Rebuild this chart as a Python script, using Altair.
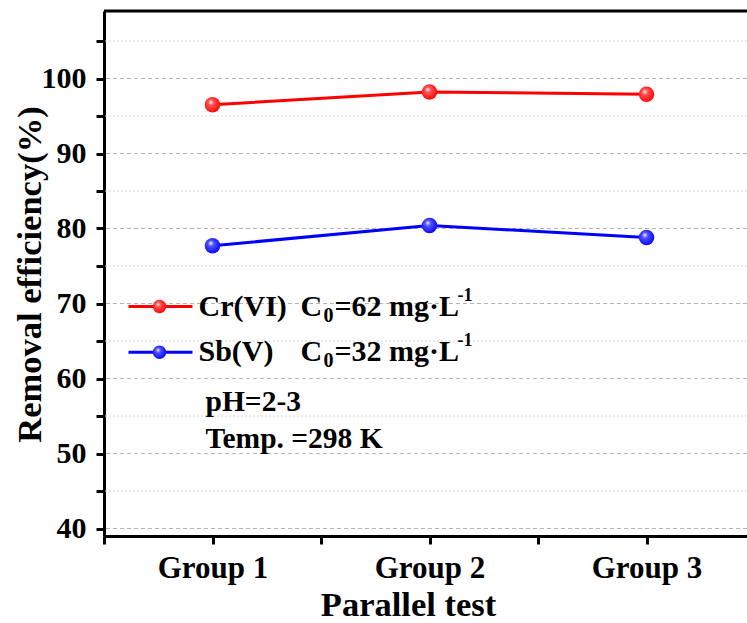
import altair as alt
import pandas as pd

# Removal efficiency (%) for three parallel test groups
groups = [1, 2, 3]
cr_vi = [96.5, 98.2, 97.9]
sb_v = [77.7, 80.4, 78.8]

FONT = "Liberation Serif"
X_DOM = [0.5, 3.463]
Y_DOM = [39, 109]

df = pd.DataFrame({
    "group": groups * 2,
    "eff": cr_vi + sb_v,
    "ion": ["Cr(VI)"] * 3 + ["Sb(V)"] * 3,
})

xs = alt.Scale(domain=X_DOM, nice=False, zero=False)
ys = alt.Scale(domain=Y_DOM, nice=False, zero=False)

x_axis = alt.Axis(
    values=[0.5, 1, 1.5, 2, 2.5, 3, 3.5],
    labelExpr="datum.value % 1 == 0 ? 'Group ' + datum.value : ''",
    title="Parallel test", grid=False,
    titleX=304, titleY=69, titleAlign="center", titleBaseline="middle",
)
y_axis = alt.Axis(
    values=list(range(40, 110, 5)),
    labelExpr="datum.value % 10 == 0 ? datum.label : ''",
    title="Removal efficiency(%)", grid=False,
    titleX=-74, titleY=263, titleAlign="center", titleBaseline="middle", titleAngle=270,
)


def ball(color, light):
    return alt.RadialGradient(
        gradient="radial",
        stops=[alt.GradientStop(color="#ffffff", offset=0),
               alt.GradientStop(color=light, offset=0.3),
               alt.GradientStop(color=color, offset=1)],
        x1=0.38, y1=0.32, r1=0.0, x2=0.45, y2=0.45, r2=0.62,
    )


base = alt.Chart(df)

# dashed major grid and dotted minor grid
grid_major = alt.Chart(pd.DataFrame({"v": list(range(40, 101, 10))})).mark_rule(
    color="#b4b4b4", strokeDash=[4, 3], strokeWidth=1.2
).encode(y=alt.Y("v:Q", scale=ys, axis=y_axis))
grid_minor = alt.Chart(pd.DataFrame({"v": list(range(45, 106, 10))})).mark_rule(
    color="#d6d6d6", strokeDash=[2, 2], strokeWidth=1
).encode(y=alt.Y("v:Q", scale=ys))

top_border = alt.Chart(pd.DataFrame({"v": [Y_DOM[1]]})).mark_rule(
    color="black", strokeWidth=3
).encode(y=alt.Y("v:Q", scale=ys))

layers = [grid_major, grid_minor, top_border]
for name, col, light in [("Cr(VI)", "#ff0000", "#ff5050"), ("Sb(V)", "#0000ff", "#5050ff")]:
    sub = base.transform_filter(alt.datum.ion == name)
    layers.append(sub.mark_line(color=col, strokeWidth=3).encode(
        x=alt.X("group:Q", scale=xs, axis=x_axis), y=alt.Y("eff:Q", scale=ys)))
    layers.append(sub.mark_point(filled=True, size=240, opacity=1, fill=ball(col, light)).encode(
        x=alt.X("group:Q", scale=xs), y=alt.Y("eff:Q", scale=ys)))


# legend: sample line + ball, then labels with sub/superscripts
def px(p):
    return (p - 212) / 217 + 1


legend_rows = [
    ("Cr(VI)", "=62 mg·L", 69.6, "#ff0000", "#ff5050"),
    ("Sb(V)", "=32 mg·L", 63.5, "#0000ff", "#5050ff"),
]
for lab, conc, yv, col, light in legend_rows:
    seg = pd.DataFrame({"x": [px(128), px(192)], "y": [yv, yv]})
    layers.append(alt.Chart(seg).mark_line(color=col, strokeWidth=3).encode(
        x=alt.X("x:Q", scale=xs), y=alt.Y("y:Q", scale=ys)))
    layers.append(alt.Chart(pd.DataFrame({"x": [px(159)], "y": [yv]})).mark_point(
        filled=True, size=180, opacity=1, fill=ball(col, light)).encode(
        x=alt.X("x:Q", scale=xs), y=alt.Y("y:Q", scale=ys)))
    pieces = [
        (lab, 198, 30, 0),
        ("C", 300, 30, 0),
        ("0", 323, 20, 9),
        (conc, 334, 30, 0),
        ("-1", 457, 18, -11),
    ]
    for txt, p, fs, dy in pieces:
        layers.append(alt.Chart(pd.DataFrame({"x": [px(p)], "y": [yv], "t": [txt]})).mark_text(
            font=FONT, fontWeight="bold", fontSize=fs, align="left", baseline="middle",
            dy=dy, color="black").encode(
            x=alt.X("x:Q", scale=xs), y=alt.Y("y:Q", scale=ys), text="t:N"))

notes = pd.DataFrame({"x": [px(205), px(205)], "y": [56.9, 52.0], "t": ["pH=2-3", "Temp. =298 K"]})
layers.append(alt.Chart(notes).mark_text(
    font=FONT, fontWeight="bold", fontSize=29.5, align="left", baseline="middle", color="black"
).encode(x=alt.X("x:Q", scale=xs), y=alt.Y("y:Q", scale=ys), text="t:N"))

chart = alt.layer(*layers).properties(
    width=643, height=525,
    autosize=alt.AutoSizeParams(type="none"),
    padding={"left": 104, "top": 11, "right": 0, "bottom": 87},
    background="white",
).configure_view(stroke=None).configure_axis(
    labelFont=FONT, labelFontWeight="bold", labelColor="black",
    titleFont=FONT, titleFontWeight="bold", titleFontSize=34.5, titleColor="black",
    domainColor="black", domainWidth=3, tickColor="black", tickWidth=3, tickSize=8,
).configure_axisY(labelPadding=10, labelFontSize=30).configure_axisX(labelPadding=9, labelFontSize=31)

chart.save("out.html", embed_options={"renderer": "svg", "actions": False})
